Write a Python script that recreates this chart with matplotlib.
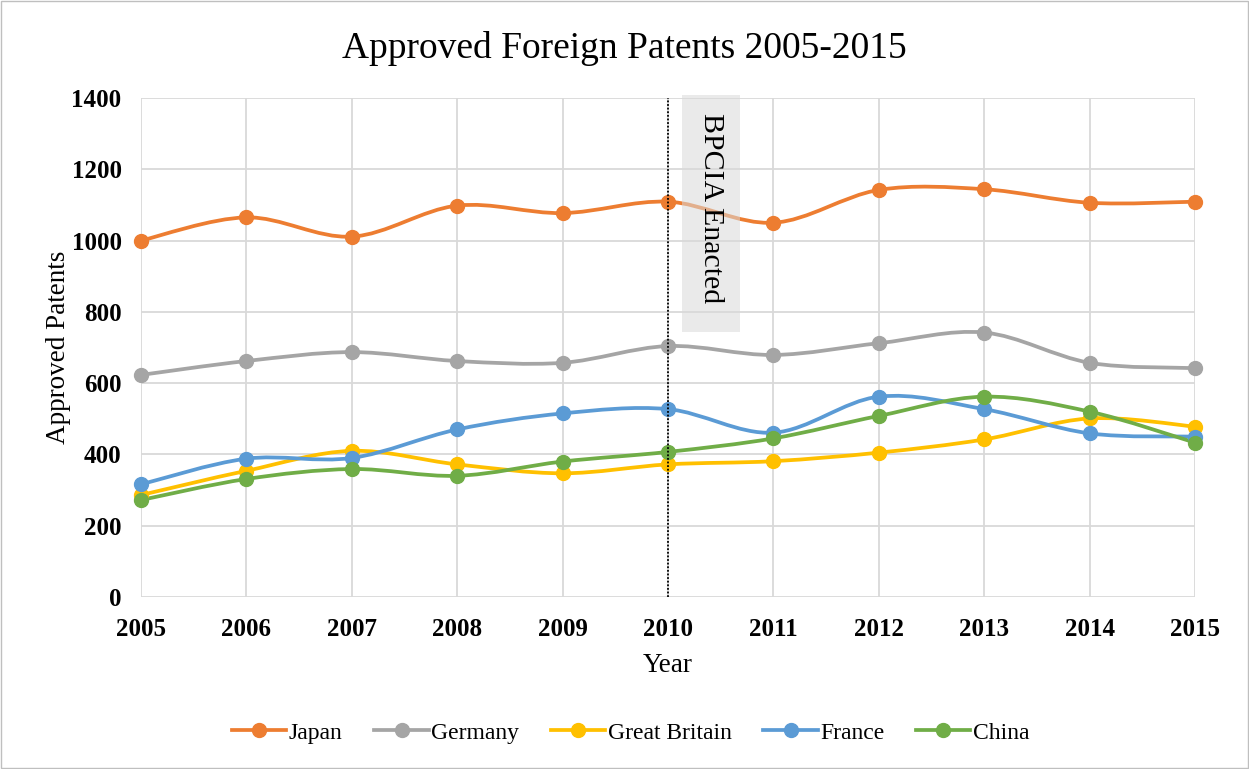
"""Approved foreign patents 2005-2015, Excel-style smooth line chart"""

import numpy as np
import matplotlib.pyplot as plt
from matplotlib.path import Path
from matplotlib.patches import PathPatch, Rectangle
from matplotlib.lines import Line2D

plt.rcParams['font.family'] = ['Liberation Serif', 'DejaVu Serif']

years = [2005, 2006, 2007, 2008, 2009, 2010, 2011, 2012, 2013, 2014, 2015]
japan = [1000, 1065, 1011, 1098, 1077, 1109, 1050, 1142, 1144, 1106, 1109]
germany = [623, 662, 687, 662, 657, 704, 679, 712, 742, 657, 642]
great_britain = [286, 354, 410, 372, 347, 372, 381, 405, 442, 501, 478]
france = [316, 388, 390, 470, 515, 527, 461, 562, 527, 459, 450]
china = [272, 331, 359, 340, 380, 407, 445, 508, 562, 520, 433]

names = ['Japan', 'Germany', 'Great Britain', 'France', 'China']
colors = ['#ED7D31', '#A5A5A5', '#FFC000', '#5B9BD5', '#70AD47']

event_year = 2010
event_label = 'BPCIA Enacted'


def smooth_path(x, y):
    # Bezier segments like Excel's "smoothed line" (Catmull-Rom control points)
    pts = np.column_stack([x, y]).astype(float)
    verts = [pts[0]]
    codes = [Path.MOVETO]
    n = len(pts)
    for i in range(n - 1):
        p0 = pts[max(i - 1, 0)]
        p1 = pts[i]
        p2 = pts[i + 1]
        p3 = pts[min(i + 2, n - 1)]
        verts += [p1 + (p2 - p0) / 6, p2 - (p3 - p1) / 6, p2]
        codes += [Path.CURVE4] * 3
    return Path(verts, codes)


fig = plt.figure(figsize=(12.49, 7.69), dpi=100)
ax = fig.add_axes([0.1129, 0.2237, 0.8439, 0.6489])

series = [japan, germany, great_britain, france, china]
handles = []
for vals, name, c in zip(series, names, colors):
    ax.add_patch(PathPatch(smooth_path(years, vals), facecolor='none',
                           edgecolor=c, lw=2.7, capstyle='round', zorder=3))
    ax.plot(years, vals, 'o', color=c, markersize=10, zorder=4, clip_on=False)
    handles.append(Line2D([], [], color=c, lw=2.7, marker='o', markersize=10))

# event marker
ax.axvline(event_year, color='black', linestyle=(0, (1, 1)), lw=1.3, zorder=5)
ax.add_patch(Rectangle((2010.13, 743), 0.55, 665, facecolor='#D9D9D9',
                       alpha=0.55, edgecolor='none', zorder=5, clip_on=False))
ax.text(2010.405, 1358, event_label, rotation=-90, ha='center', va='top',
        fontsize=21.5, zorder=6)

ax.set_xlim(2005, 2015)
ax.set_ylim(0, 1400)
ax.set_xticks(years)
ax.set_yticks(range(0, 1401, 200))
ax.tick_params(length=0, labelsize=18)
ax.tick_params(axis='x', pad=15)
ax.tick_params(axis='y', pad=14)
for lab in ax.get_xticklabels() + ax.get_yticklabels():
    lab.set_fontweight('bold')
ax.grid(True, color='#D9D9D9', lw=1.3, zorder=0)
ax.set_axisbelow(True)
for s in ax.spines.values():
    s.set_visible(False)

ax.set_xlabel('Year', fontsize=19.5, labelpad=9)
ax.set_ylabel('Approved Patents', fontsize=19.5, labelpad=0.5)
fig.suptitle('Approved Foreign Patents 2005-2015', fontsize=27, y=0.96)

fig.legend(handles, names, loc='center', bbox_to_anchor=(0.505, 0.047), ncol=5,
           frameon=False, fontsize=17, handlelength=2.3, columnspacing=1.35,
           handletextpad=0.1)

fig.add_artist(Rectangle((0.001, 0.001), 0.998, 0.998, transform=fig.transFigure,
                         facecolor='none', edgecolor='#BFBFBF', lw=1))

plt.savefig('out.png', dpi=100)
